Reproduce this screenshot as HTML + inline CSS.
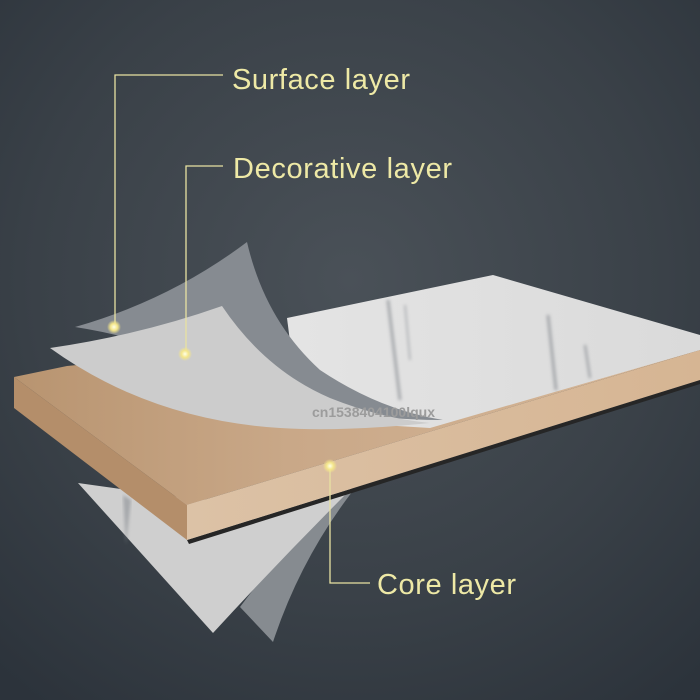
<!DOCTYPE html>
<html><head><meta charset="utf-8"><style>
html,body{margin:0;padding:0;background:#343b43}
svg{display:block}
</style></head><body>
<svg width="700" height="700" viewBox="0 0 700 700" xmlns="http://www.w3.org/2000/svg">
<defs>
<radialGradient id="bg" cx="0.5" cy="0.4" r="0.75">
<stop offset="0" stop-color="#4a5158"/>
<stop offset="0.6" stop-color="#3a4148"/>
<stop offset="1" stop-color="#2c333b"/>
</radialGradient>
<linearGradient id="top" x1="0" y1="0" x2="1" y2="0">
<stop offset="0" stop-color="#b89470"/>
<stop offset="0.4" stop-color="#c9a888"/>
<stop offset="1" stop-color="#d6b798"/>
</linearGradient>
<linearGradient id="front" x1="0" y1="0" x2="1" y2="0">
<stop offset="0" stop-color="#dcc2a6"/>
<stop offset="1" stop-color="#d6b593"/>
</linearGradient>
<linearGradient id="marble" x1="0" y1="0" x2="1" y2="0">
<stop offset="0" stop-color="#e4e4e4"/>
<stop offset="1" stop-color="#dadada"/>
</linearGradient>
<radialGradient id="dot">
<stop offset="0" stop-color="#ffffe8"/>
<stop offset="0.5" stop-color="#f4e68a"/>
<stop offset="1" stop-color="#f4e68a" stop-opacity="0"/>
</radialGradient>
<filter id="blur"><feGaussianBlur stdDeviation="1.5"/></filter>
</defs>
<rect width="700" height="700" fill="url(#bg)"/>

<!-- bottom sheets -->
<path d="M240,607 L273,642 Q300,560 352,492 L340,492 Q290,540 240,607 Z" fill="#868b90"/>
<path d="M78,483 L213,633 Q280,560 352,488 L200,500 Z" fill="#cfcfcf"/>
<path d="M123,495 L126,545 L131,500 Z" fill="#8b8f94" opacity="0.6" filter="url(#blur)"/>

<!-- board -->
<path d="M187,540 L700,380 L700,384 L189,544 Z" fill="#262626"/>
<path d="M14,377 L67,366 L450,330 L700,335 L700,350 L187,505 Z" fill="url(#top)"/>
<path d="M14,377 L187,505 L187,540 L14,408 Z" fill="#b48e6a"/>
<path d="M187,505 L700,350 L700,380 L187,540 Z" fill="url(#front)"/>

<!-- marble top sheet -->
<path d="M287,318 L493,275 L700,335 L700,350 L430,428 L300,420 Z" fill="url(#marble)"/>
<g filter="url(#blur)" stroke="#8d9196" fill="none" opacity="0.7">
<path d="M388,300 L400,400" stroke-width="3"/>
<path d="M405,305 L410,360" stroke-width="1.5"/>
<path d="M548,315 L556,390" stroke-width="3"/>
<path d="M585,345 L590,378" stroke-width="2.5"/>
</g>

<!-- dark curled sheet -->
<path d="M75,327 Q170,300 247,242 Q265,320 320,370 Q380,410 443,420 Q330,420 250,385 Q160,340 75,327 Z" fill="#868b91"/>
<!-- light curled sheet -->
<path d="M50,348 Q140,335 222,306 Q265,370 330,398 Q380,418 430,423 Q340,432 280,428 Q150,420 50,348 Z" fill="#cccccc"/>

<text x="312" y="417" font-family="Liberation Sans, sans-serif" font-size="14" font-weight="bold" fill="#9c9c9c">cn1538404100lqux</text>

<!-- leaders -->
<g stroke="#e8e2a2" stroke-width="1.3" fill="none">
<path d="M223,75 H115 V325"/>
<path d="M223,166 H186 V352"/>
<path d="M370,583 H330 V465"/>
</g>
<circle cx="114" cy="327" r="7" fill="url(#dot)"/>
<circle cx="185" cy="354" r="7" fill="url(#dot)"/>
<circle cx="330" cy="466" r="7" fill="url(#dot)"/>
<g font-family="Liberation Sans, sans-serif" font-size="29" fill="#eee9a6">
<text x="232" y="89" textLength="178">Surface layer</text>
<text x="233" y="178" textLength="219">Decorative layer</text>
<text x="377" y="594" textLength="139">Core layer</text>
</g>
</svg>
</body></html>
